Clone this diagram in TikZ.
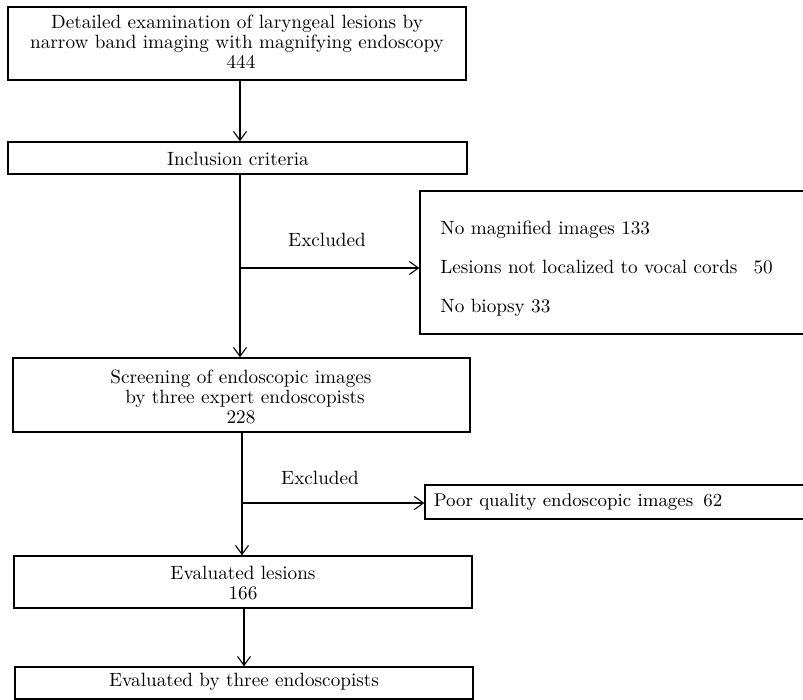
\documentclass[tikz,border=0pt]{standalone}
\usetikzlibrary{arrows.meta,fit}
\begin{document}
\begin{tikzpicture}[x=0.5pt,y=-0.5pt,
  txt/.style={font=\fontsize{9.6}{9.9}\selectfont, inner sep=0pt, align=center},
  box/.style={draw, line width=0.7pt, inner sep=0pt, fill=none},
  arr/.style={line width=0.65pt, -{Straight Barb[length=4.5pt,width=6.5pt,line width=0.55pt]}}]
\useasboundingbox (0,0) rectangle (803,700);
% boxes
\node[box, fit={(8,7) (466,80)}] (b1) {};
\node[txt] at (237,42) {Detailed examination of laryngeal lesions by\\narrow band imaging with magnifying endoscopy\\\hspace*{4pt}444};
\node[box, fit={(8,142) (467,174)}] (b2) {};
\node[txt] at (238,159) {Inclusion criteria};
\node[box, fit={(420,191) (808,334)}] (ex1) {};
\node[txt, anchor=west, align=left, font=\fontsize{9.6}{19.5}\selectfont] at (440,269) {No magnified images 133\\Lesions not localized to vocal cords\hspace{8pt}50\\No biopsy 33};
\node[box, fit={(13,358) (470,432)}] (b3) {};
\node[txt] at (241,397) {Screening of endoscopic images\\\hspace*{4pt}by three expert endoscopists\\228};
\node[box, fit={(425,485) (808,519)}] (ex2) {};
\node[txt, font=\fontsize{9.2}{9.9}\selectfont] at (578,502) {Poor quality endoscopic images\hspace{5pt}62};
\node[box, fit={(14,556) (472,608)}] (b4) {};
\node[txt] at (243,583) {Evaluated lesions\\166};
\node[box, fit={(15,667) (473,699)}] (b6) {};
\node[txt] at (244,682) {Evaluated by three endoscopists};
% labels
\node[txt] (l1) at (327,240) {Excluded};
\node[txt] (l2) at (320,478) {Excluded};
% connectors
\coordinate (t1) at (240,80);
\coordinate (j1) at (240,268);
\coordinate (j2) at (242,503);
\coordinate (t3) at (244,608);
\draw[arr] (t1) -- (t1 |- b2.north);
\draw[arr] (b2.south -| t1) -- (t1 |- b3.north);
\draw[arr] (j1) -- (ex1.west |- j1);
\draw[arr] (b3.south -| j2) -- (j2 |- b4.north);
\draw[arr] (j2) -- (ex2.west |- j2);
\draw[arr] (t3) -- (t3 |- b6.north);
\end{tikzpicture}
\end{document}
